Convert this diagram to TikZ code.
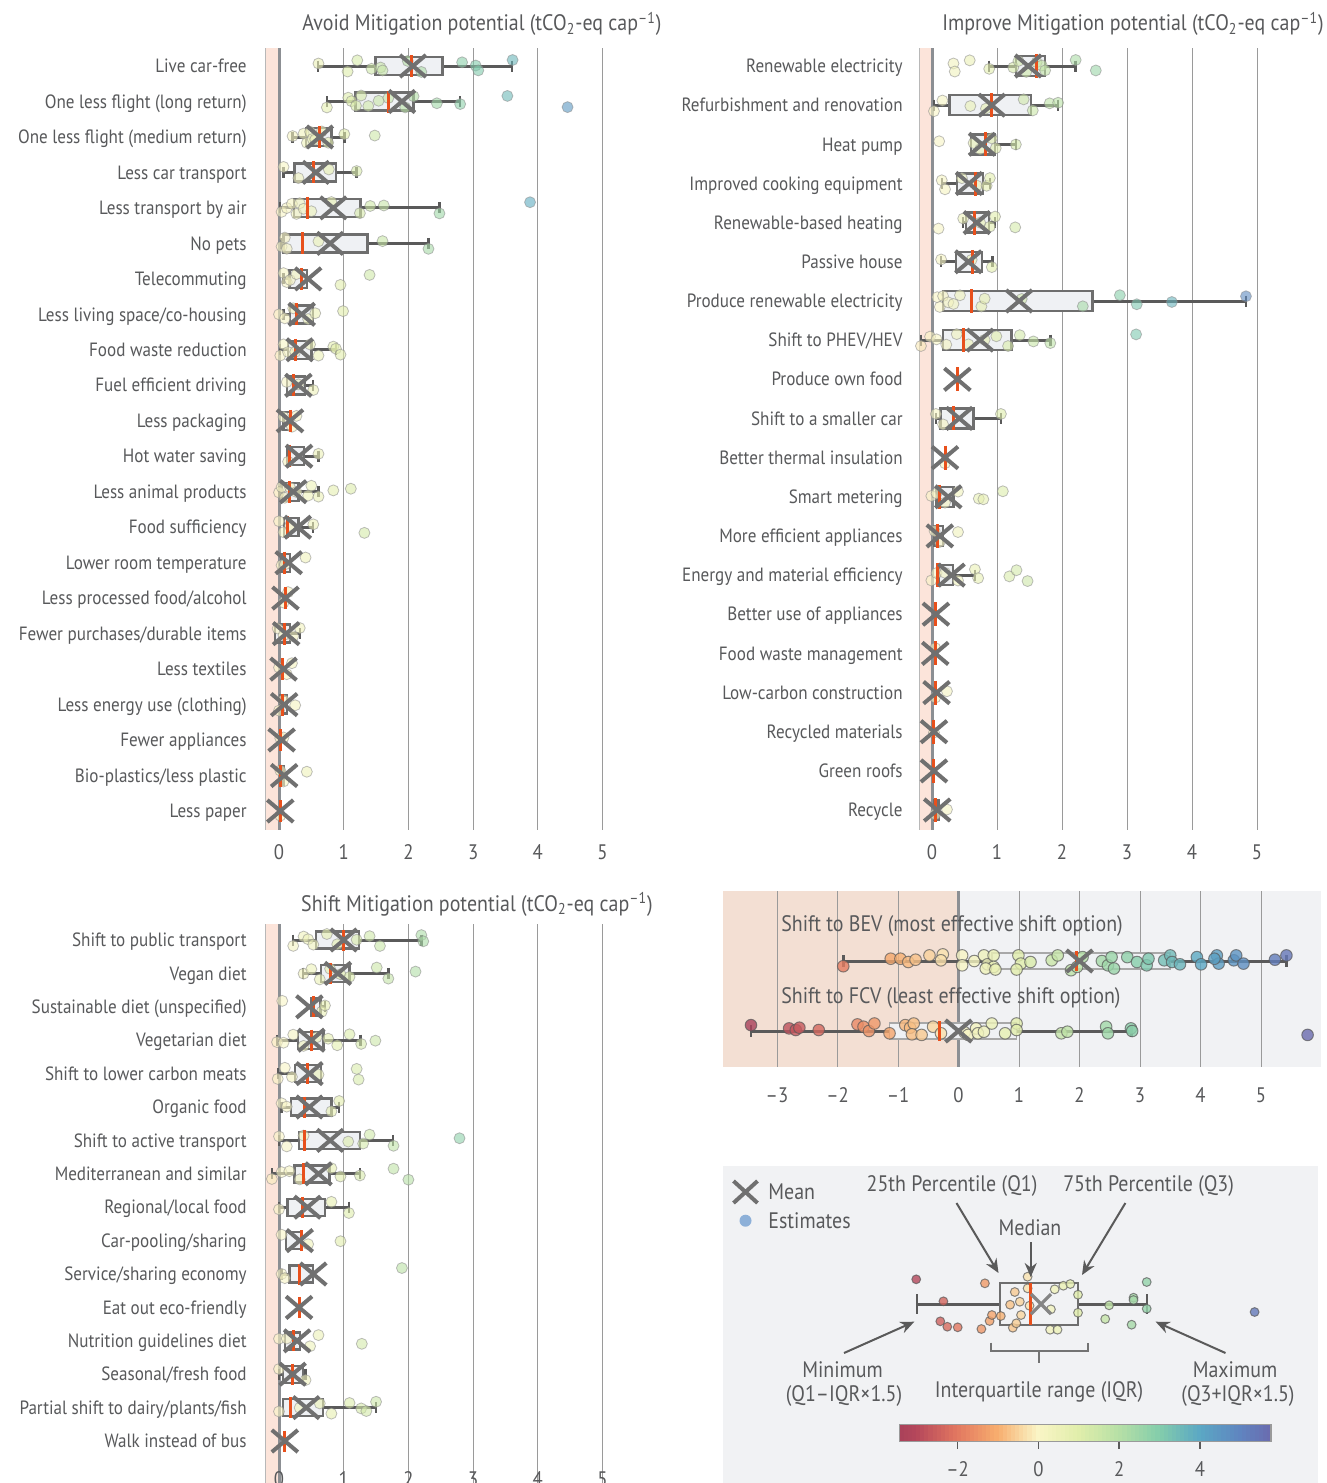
\documentclass[tikz,border=0pt]{standalone}
\usepackage{fontspec}
\setmainfont{PT Sans}[FakeStretch=0.89]
\usetikzlibrary{arrows.meta}
\definecolor{txt}{HTML}{58595B}
\definecolor{boxfill}{HTML}{EFF1F4}
\definecolor{boxline}{HTML}{6E6E6E}
\definecolor{wcol}{HTML}{5A5A5A}
\definecolor{medc}{HTML}{E8501C}
\definecolor{meanc}{HTML}{707070}
\definecolor{pinkband}{HTML}{FCE4DA}
\definecolor{zeroline}{HTML}{8C8F93}
\definecolor{gridc}{HTML}{9A9A9A}
\definecolor{panelbg}{HTML}{F1F2F4}
\definecolor{panelpink}{HTML}{F3DFD3}
\definecolor{dotedge}{HTML}{8A8A8A}
\definecolor{estblue}{HTML}{8DB0D8}
% colormap, index = value + 4
\definecolor{cm0}{HTML}{9A3A58}
\definecolor{cm1}{HTML}{B5475B}
\definecolor{cm2}{HTML}{E27760}
\definecolor{cm3}{HTML}{F7AD6E}
\definecolor{cm4}{HTML}{FAF5C6}
\definecolor{cm5}{HTML}{E1EEAB}
\definecolor{cm6}{HTML}{B7E0A6}
\definecolor{cm7}{HTML}{84CDAB}
\definecolor{cm8}{HTML}{5BA8C4}
\definecolor{cm9}{HTML}{5F85C0}
\definecolor{cm10}{HTML}{6E63AA}
\newcommand\setdc[1]{%
  \pgfmathsetmacro\vcl{max(-3.99,min(5.99,#1))}%
  \pgfmathtruncatemacro\sgi{floor(\vcl)+4}%
  \pgfmathtruncatemacro\sgj{\sgi+1}%
  \pgfmathsetmacro\frc{100*(\vcl+4-\sgi)}%
  \colorlet{dotc}{cm\sgj!\frc!cm\sgi}%
}
\tikzset{
  lbl/.style={anchor=base east, inner sep=0pt, text=txt, font=\fontsize{9.6}{11}\selectfont},
  ttl/.style={anchor=base, inner sep=0pt, text=txt, font=\fontsize{11.2}{13}\selectfont},
  tick/.style={anchor=base, inner sep=0pt, text=txt, font=\fontsize{10.5}{12}\selectfont},
  big/.style={inner sep=0pt, text=txt, font=\fontsize{11.2}{13}\selectfont},
  whisk/.style={draw=wcol, line width=1.5pt},
  wcap/.style={draw=wcol, line width=1.2pt},
  boxst/.style={draw=boxline, fill=boxfill, line width=1.2pt},
  medst/.style={draw=medc, line width=1.5pt},
  meanst/.style={draw=meanc, line width=2pt},
  gridl/.style={draw=gridc, line width=0.5pt},
  zerol/.style={draw=zeroline, line width=1.5pt},
  dotst/.style={fill=dotc, fill opacity=0.6, draw=dotedge, draw opacity=0.55, line width=0.4pt},
  bdotst/.style={fill=dotc, fill opacity=0.8, draw=black!65, draw opacity=0.7, line width=0.5pt},
  arr/.style={draw=wcol, line width=1pt, -{Stealth[length=7pt,width=6pt]}},
}
\def\zx{279}\def\un{64.7}\def\bh{9}\def\dr{5.5}
\newcommand\dts[2]{%
  \foreach \v [count=\i] in {#2} {%
    \setdc{\v}%
    \pgfmathsetmacro\dy{6*sin(\i*137.5+#1*3)}%
    \filldraw[dotst] ({\zx+\un*(\v)},{#1+\dy}) circle (\dr);
  }}
\newcommand\brow[8]{%
  \draw[whisk] ({\zx+\un*(#2)},#1) -- ({\zx+\un*(#5)},#1);
  \draw[wcap] ({\zx+\un*(#2)},{#1-5.5}) -- ({\zx+\un*(#2)},{#1+5.5});
  \draw[wcap] ({\zx+\un*(#5)},{#1-5.5}) -- ({\zx+\un*(#5)},{#1+5.5});
  \draw[boxst] ({\zx+\un*(#3)},{#1-\bh}) rectangle ({\zx+\un*(#4)},{#1+\bh});
  \def\tmpd{#8}\ifx\tmpd\empty\else\dts{#1}{#8}\fi
  \draw[medst] ({\zx+\un*(#6)},{#1-\bh-2}) -- ({\zx+\un*(#6)},{#1+\bh+2});
  \draw[meanst] ({\zx+\un*(#7)-13},{#1-11}) -- ({\zx+\un*(#7)+13},{#1+11})
                ({\zx+\un*(#7)-13},{#1+11}) -- ({\zx+\un*(#7)+13},{#1-11});
}
\newcommand\bdts[2]{%
  \foreach \v/\d in {#2} {%
    \setdc{\v}%
    \filldraw[bdotst] ({\zx+\un*(\v)},{#1+\d}) circle (5.8);
  }}
\newcommand\ldot[2]{%
  \setdc{(#1-1038.4)/40.4}%
  \filldraw[bdotst] (#1,#2) circle (4.4);
}
\begin{document}
\begin{tikzpicture}[x=0.5pt,y=-0.5pt]
\useasboundingbox (0,0) rectangle (1327,1483);
\fill[white] (0,0) rectangle (1327,1483);

%================ Panel 1: Avoid =================
\def\zx{279}\def\un{64.7}\def\bh{9}
\fill[pinkband] (265,48) rectangle (278,830);
\draw[gridc!70, line width=0.5pt] (265,48) -- (265,830);
\foreach \k in {1,...,5} \draw[gridl] ({\zx+\un*\k},48) -- ({\zx+\un*\k},830);
\draw[zerol] (\zx,48) -- (\zx,830);
\foreach \k in {0,...,5} \node[tick] (ta\k) at ({\zx+\un*\k},859) {\k};
\node[ttl] (tta) at (482,31) {Avoid Mitigation potential (tCO\textsubscript{2}-eq cap\textsuperscript{–1})};
\foreach \t [count=\i] in {Live car-free,One less flight (long return),One less flight (medium return),Less car transport,Less transport by air,No pets,Telecommuting,Less living space/co-housing,Food waste reduction,Fuel efficient driving,Less packaging,Hot water saving,Less animal products,Food sufficiency,Lower room temperature,Less processed food/alcohol,Fewer purchases/durable items,Less textiles,Less energy use (clothing),Fewer appliances,Bio-plastics/less plastic,Less paper}{%
  \pgfmathsetmacro\yy{66+35.476*(\i-1)}
  \node[lbl] (la\i) at (247,\yy+6.7) {\t};}
\brow{66}{0.6}{1.49}{2.53}{3.6}{2.05}{2.07}{0.61,1.06,1.21,1.43,1.57,1.99,2.2,2.83,3.04,3.08,3.61,1.6}
\brow{101.5}{0.74}{1.18}{2.08}{2.8}{1.69}{1.9}{0.74,1.07,1.12,1.19,1.27,1.38,1.54,1.69,1.95,2.08,2.44,2.8,3.53,4.46}
\brow{137}{0.21}{0.42}{0.81}{1.01}{0.62}{0.63}{0.21,0.38,0.43,0.48,0.52,0.56,0.66,0.76,1.01,1.48}
\brow{172.4}{0.07}{0.24}{0.88}{1.2}{0.54}{0.57}{0.07,0.3,0.77,1.2}
\brow{207.9}{0.02}{0.23}{1.26}{2.48}{0.44}{0.84}{0.04,0.12,0.2,0.27,0.32,0.38,0.5,0.81,1.25,1.41,1.62,2.48,3.88}
\brow{243.4}{0.04}{0.07}{1.37}{2.31}{0.36}{0.79}{0.04,0.09,0.12,0.61,1.6,2.31}
\brow{278.9}{0.07}{0.16}{0.43}{0.43}{0.34}{0.45}{0.07,0.12,0.17,0.27,0.95,1.4}
\brow{314.3}{0.07}{0.17}{0.53}{0.53}{0.27}{0.35}{0.0,0.09,0.22,0.45,0.56,0.99}
\brow{349.8}{0.02}{0.14}{0.5}{0.88}{0.26}{0.32}{0.02,0.07,0.14,0.25,0.48,0.61,0.84,0.88,0.95}
\brow{385.3}{0.12}{0.12}{0.4}{0.53}{0.22}{0.3}{0.12,0.3,0.53}
\brow{420.8}{0.07}{0.07}{0.17}{0.17}{0.17}{0.17}{0.07,0.2,0.27}
\brow{456.2}{0.13}{0.13}{0.39}{0.61}{0.16}{0.31}{0.14,0.61}
\brow{491.7}{0.0}{0.04}{0.3}{0.61}{0.16}{0.22}{0.0,0.04,0.09,0.17,0.27,0.45,0.5,0.61,0.84,1.11}
\brow{527.2}{0.08}{0.08}{0.3}{0.53}{0.13}{0.29}{0.0,0.07,0.17,0.53,1.32}
\brow{562.7}{0.04}{0.04}{0.17}{0.17}{0.09}{0.15}{0.04,0.09,0.41}
\brow{598.1}{0.1}{0.1}{0.1}{0.1}{0.1}{0.1}{0.07,0.14}
\brow{633.6}{-0.06}{-0.06}{0.17}{0.32}{0.08}{0.11}{-0.02,0.07,0.22,0.32}
\brow{669.1}{0.05}{0.05}{0.05}{0.05}{0.05}{0.07}{0.0,0.12,0.2}
\brow{704.6}{0.02}{0.02}{0.12}{0.12}{0.06}{0.08}{0.0,0.07,0.25}
\brow{740}{0.03}{0.03}{0.03}{0.03}{0.03}{0.04}{0.02,0.07}
\brow{775.5}{0.03}{0.03}{0.07}{0.07}{0.03}{0.08}{0.02,0.07,0.43}
\brow{811}{0.02}{0.02}{0.02}{0.02}{0.02}{0.02}{0.02}

%================ Panel 2: Improve =================
\def\zx{932}\def\un{65}\def\bh{10}
\fill[pinkband] (919,48) rectangle (931,830);
\draw[gridc!70, line width=0.5pt] (919,48) -- (919,830);
\foreach \k in {1,...,5} \draw[gridl] ({\zx+\un*\k},48) -- ({\zx+\un*\k},830);
\draw[zerol] (\zx,48) -- (\zx,830);
\foreach \k in {0,...,5} \node[tick] (tb\k) at ({\zx+\un*\k},859) {\k};
\node[ttl] (ttb) at (1133,31) {Improve Mitigation potential (tCO\textsubscript{2}-eq cap\textsuperscript{–1})};
\foreach \t [count=\i] in {Renewable electricity,Refurbishment and renovation,Heat pump,Improved cooking equipment,Renewable-based heating,Passive house,Produce renewable electricity,Shift to PHEV/HEV,Produce own food,Shift to a smaller car,Better thermal insulation,Smart metering,More efficient appliances,Energy and material efficiency,Better use of appliances,Food waste management,Low-carbon construction,Recycled materials,Green roofs,Recycle}{%
  \pgfmathsetmacro\yy{66+39.16*(\i-1)}
  \node[lbl] (lb\i) at (903,\yy+6.7) {\t};}
\brow{66}{0.88}{1.29}{1.74}{2.21}{1.61}{1.48}{0.33,0.35,0.58,0.88,1.25,1.33,1.45,1.61,1.69,1.74,2.21,2.52}
\brow{105.2}{0.03}{0.27}{1.52}{1.94}{0.91}{0.92}{0.03,0.16,0.59,0.83,1.41,1.55,1.81,1.94}
\brow{144.3}{0.6}{0.6}{0.97}{1.29}{0.82}{0.77}{0.11,0.64,0.74,0.92,0.98,1.29}
\brow{183.5}{0.15}{0.38}{0.78}{0.89}{0.67}{0.57}{0.15,0.2,0.46,0.69,0.84,0.89}
\brow{222.6}{0.48}{0.52}{0.88}{0.97}{0.65}{0.69}{0.1,0.48,0.74,0.89,0.97,1.28}
\brow{261.8}{0.14}{0.37}{0.77}{0.93}{0.62}{0.56}{0.14,0.61,0.92}
\brow{301}{0.17}{0.17}{2.47}{4.83}{0.6}{1.34}{0.08,0.12,0.17,0.25,0.33,0.43,0.76,0.81,1.38,2.32,2.89,3.15,3.69,4.83}
\brow{340.1}{-0.17}{0.17}{1.22}{1.82}{0.48}{0.74}{-0.17,-0.03,0.07,0.22,0.38,0.56,0.81,0.99,1.17,1.35,1.56,1.82,3.14}
\brow{379.3}{0.39}{0.39}{0.39}{0.39}{0.39}{0.39}{}
\brow{418.4}{0.06}{0.13}{0.64}{1.06}{0.33}{0.42}{0.06,0.17,1.06}
\brow{457.6}{0.2}{0.2}{0.2}{0.2}{0.2}{0.2}{0.2}
\brow{496.8}{0.07}{0.07}{0.33}{0.33}{0.12}{0.25}{-0.01,0.07,0.2,0.4,0.72,0.79,1.09}
\brow{535.9}{0.04}{0.04}{0.17}{0.17}{0.08}{0.12}{0.04,0.12,0.4}
\brow{575.1}{0.1}{0.1}{0.32}{0.66}{0.08}{0.3}{-0.01,0.07,0.2,0.4,0.66,0.71,1.19,1.3,1.47}
\brow{614.2}{0.06}{0.06}{0.06}{0.06}{0.06}{0.06}{}
\brow{653.4}{0.05}{0.05}{0.05}{0.05}{0.05}{0.05}{0.05}
\brow{692.6}{0.05}{0.05}{0.05}{0.05}{0.05}{0.07}{0.05,0.23}
\brow{731.7}{0.03}{0.03}{0.03}{0.03}{0.03}{0.03}{0.03}
\brow{770.9}{0.03}{0.03}{0.03}{0.03}{0.03}{0.03}{}
\brow{810}{0.03}{0.03}{0.1}{0.1}{0.05}{0.08}{0.05,0.23}

%================ Panel 3: Shift =================
\def\zx{279}\def\un{64.7}\def\bh{8.5}
\fill[pinkband] (265,924) rectangle (278,1483);
\draw[gridc!70, line width=0.5pt] (265,924) -- (265,1483);
\foreach \k in {1,...,5} \draw[gridl] ({\zx+\un*\k},924) -- ({\zx+\un*\k},1483);
\draw[zerol] (\zx,924) -- (\zx,1483);
\foreach \k in {0,...,5} \node[tick] (tc\k) at ({\zx+\un*\k},1486) {\k};
\node[ttl] (ttc) at (477,911) {Shift Mitigation potential (tCO\textsubscript{2}-eq cap\textsuperscript{–1})};
\foreach \t [count=\i] in {Shift to public transport,Vegan diet,Sustainable diet (unspecified),Vegetarian diet,Shift to lower carbon meats,Organic food,Shift to active transport,Mediterranean and similar,Regional/local food,Car-pooling/sharing,Service/sharing economy,Eat out eco-friendly,Nutrition guidelines diet,Seasonal/fresh food,Partial shift to dairy/plants/fish,Walk instead of bus}{%
  \pgfmathsetmacro\yy{940+33.4*(\i-1)}
  \node[lbl] (lc\i) at (247,\yy+6.7) {\t};}
\brow{940}{0.22}{0.57}{1.24}{2.2}{0.99}{1.0}{0.22,0.38,0.45,0.53,0.74,0.9,1.2,1.4,1.56,2.2,2.23}
\brow{973.4}{0.37}{0.65}{1.09}{1.69}{0.8}{0.91}{0.38,0.5,0.63,0.79,0.95,1.09,1.51,1.69,2.11}
\brow{1006.8}{0.5}{0.5}{0.64}{0.71}{0.54}{0.47}{0.05,0.66,0.71}
\brow{1040.2}{-0.03}{0.29}{0.69}{1.26}{0.5}{0.5}{-0.03,0.07,0.22,0.38,0.58,0.76,0.9,1.09,1.27,1.49}
\brow{1073.6}{-0.02}{0.25}{0.65}{0.65}{0.44}{0.47}{-0.02,0.09,0.2,0.61,1.2,1.23}
\brow{1107}{0.04}{0.19}{0.81}{0.93}{0.4}{0.47}{0.04,0.12,0.81,0.93}
\brow{1140.4}{0.0}{0.31}{1.25}{1.76}{0.4}{0.79}{0.0,0.12,0.38,1.07,1.3,1.4,1.77,2.79}
\brow{1173.8}{-0.11}{0.24}{0.78}{1.25}{0.38}{0.61}{-0.11,0.04,0.16,0.32,0.81,0.95,1.25,1.77,2.0}
\brow{1207.2}{0.0}{0.13}{0.71}{1.08}{0.36}{0.44}{0.0,0.81,1.08}
\brow{1240.6}{0.11}{0.11}{0.35}{0.35}{0.34}{0.32}{0.04,0.45,0.95}
\brow{1274}{0.04}{0.16}{0.53}{0.53}{0.32}{0.53}{0.04,0.09,1.9}
\brow{1307.4}{0.31}{0.31}{0.31}{0.31}{0.31}{0.31}{}
\brow{1340.8}{0.09}{0.09}{0.32}{0.32}{0.23}{0.28}{0.0,0.12,0.48,0.61,1.28}
\brow{1374.2}{0.0}{0.06}{0.37}{0.41}{0.21}{0.21}{0.0,0.41}
\brow{1407.6}{0.06}{0.06}{0.68}{1.5}{0.18}{0.42}{0.0,0.32,0.63,0.81,1.09,1.27,1.35,1.5}
\brow{1441}{0.09}{0.09}{0.09}{0.09}{0.09}{0.09}{}

%================ Panel 4: BEV / FCV =================
\def\zx{958.5}\def\un{60.5}\def\bh{8}
\fill[panelpink] (723,891) rectangle (958.5,1067);
\fill[panelbg] (958.5,891) rectangle (1321,1067);
\foreach \k in {-3,-2,-1,1,2,3,4,5} \draw[gridl] ({\zx+\un*\k},891) -- ({\zx+\un*\k},1067);
\draw[zerol] (\zx,891) -- (\zx,1067);
\foreach \k/\s in {-3/–3,-2/–2,-1/–1,0/0,1/1,2/2,3/3,4/4,5/5} \node[tick] (td\k) at ({\zx+\un*\k},1102) {\s};
% BEV row
\draw[whisk] ({\zx+\un*(-1.9)},961) -- ({\zx+\un*5.42},961);
\draw[wcap] ({\zx+\un*(-1.9)},955) -- ({\zx+\un*(-1.9)},967);
\draw[wcap] ({\zx+\un*5.42},955) -- ({\zx+\un*5.42},967);
\draw[boxline!60, fill=boxfill, line width=0.8pt] ({\zx+\un*0.55},953) rectangle ({\zx+\un*3.5},969);
\bdts{961}{-1.905/5.2,-1.12/-2.3,-0.96/-2.3,-0.83/1,-0.71/-1.3,-0.48/-5.6,-0.26/-6.6,-0.29/-0.7,0.06/-5.6,0.06/4.3,0.26/0,0.42/-5.6,0.48/3.3,0.58/-5.6,0.58/5.9,0.45/7.5,0.61/8.5,0.99/-5.6,1.03/2.6,0.96/8.5,1.19/1,1.54/-0.7,1.64/-5.6,1.86/9.2,2.05/-3.9,1.96/5.9,2.37/0,2.47/4.3,2.53/-3.9,2.57/7.5,2.79/-3.9,2.95/1,3.11/4.3,3.14/-2.3,3.40/-0.7,3.50/-5.6,3.53/1,3.66/3.3,3.94/-3.9,4.01/3.3,4.27/-5.6,4.30/2.6,4.23/-2.3,4.55/-0.7,4.59/-5.6,4.71/2.6,5.23/-1.3,5.42/-5.6}
\draw[medst] ({\zx+\un*1.95},951) -- ({\zx+\un*1.95},971);
\draw[meanst] ({\zx+\un*2-13},950) -- ({\zx+\un*2+13},972) ({\zx+\un*2-13},972) -- ({\zx+\un*2+13},950);
% FCV row
\draw[whisk] ({\zx+\un*(-3.43)},1031) -- ({\zx+\un*2.86},1031);
\draw[wcap] ({\zx+\un*(-3.43)},1025) -- ({\zx+\un*(-3.43)},1037);
\draw[wcap] ({\zx+\un*2.86},1025) -- ({\zx+\un*2.86},1037);
\draw[boxline!60, fill=boxfill, line width=0.8pt] ({\zx+\un*(-1.14)},1023) rectangle ({\zx+\un*0.96},1039);
\bdts{1031}{-3.43/-5.9,-2.80/-2.6,-2.69/-1,-2.63/-3.3,-2.31/-1,-1.67/-6.6,-1.57/-4.3,-1.48/0,-1.39/-7.5,-1.14/2.3,-0.88/-5.9,-0.80/-3.3,-0.74/-7.5,-0.77/3.3,-0.61/3.9,-0.42/-4.3,-0.29/2.3,0.10/1.3,0.16/3.9,0.29/-2.6,0.32/2.3,0.42/0.7,0.55/-7.5,0.77/2.3,0.96/-7.5,0.96/-1,1.70/2.3,1.80/0.7,2.44/-4.3,2.47/2.3,2.85/-2.6,2.87/0,5.77/3.9}
\draw[medst] ({\zx+\un*(-0.32)},1021) -- ({\zx+\un*(-0.32)},1041);
\draw[meanst] ({\zx-13},1020) -- ({\zx+13},1042) ({\zx-13},1042) -- ({\zx+13},1020);
\node[big, anchor=west] (bevlbl) at (781,926) {Shift to BEV (most effective shift option)};
\node[big, anchor=west] (fcvlbl) at (781,998) {Shift to FCV (least effective shift option)};

%================ Panel 5: legend =================
\fill[panelbg] (723,1166) rectangle (1318,1483);
\draw[meanst] (733.5,1181) -- (757.5,1203) (733.5,1203) -- (757.5,1181);
\node[big, anchor=west] (meanlbl) at (768,1192) {Mean};
\fill[estblue] (745.5,1220.7) circle (6);
\node[big, anchor=west] (estlbl) at (768,1220.7) {Estimates};
\node[big] (q1lbl) at (952,1186) {25th Percentile (Q1)};
\node[big] (q3lbl) at (1148.6,1186) {75th Percentile (Q3)};
\node[big] (medlbl) at (1030,1228) {Median};
\node[big] (minlbl) at (842.5,1370) {Minimum};
\node[big] (minlbl2) at (844,1396) {(Q1–IQR×1.5)};
\node[big] (iqrlbl) at (1039,1392) {Interquartile range (IQR)};
\node[big] (maxlbl) at (1235,1370) {Maximum};
\node[big] (maxlbl2) at (1238,1396) {(Q3+IQR×1.5)};
% legend box plot
\draw[whisk] (917,1304) -- (1147,1304);
\draw[wcap] (917,1294) -- (917,1314);
\draw[wcap] (1147,1294) -- (1147,1314);
\draw[draw=boxline, fill=panelbg, line width=1pt] (1000.4,1283.3) rectangle (1078,1325);
\ldot{916.2}{1279.3}\ldot{943.4}{1301.3}\ldot{940.3}{1321.3}\ldot{947.3}{1326.7}\ldot{957.7}{1327.3}
\ldot{984.9}{1283.3}\ldot{981.4}{1329}\ldot{989.6}{1321}\ldot{991.9}{1315}\ldot{1000.8}{1316}
\ldot{1012.8}{1327.7}\ldot{1016.3}{1323.3}\ldot{1010.1}{1304.7}\ldot{1019.8}{1301.7}\ldot{1014.8}{1292}
\ldot{1021}{1315}\ldot{1027.6}{1288.3}\ldot{1027.6}{1276.7}\ldot{1029.5}{1305.7}\ldot{1054.7}{1289.3}
\ldot{1063.3}{1285.7}\ldot{1070.3}{1284}\ldot{1078}{1294.7}\ldot{1078}{1312.7}\ldot{1050.9}{1309.3}
\ldot{1050.1}{1329.7}\ldot{1057.5}{1329.7}\ldot{1105.2}{1319}\ldot{1109.1}{1305.3}\ldot{1131.6}{1324.7}
\ldot{1133.5}{1297.7}\ldot{1133.5}{1300}\ldot{1146.7}{1282}\ldot{1146.7}{1308.7}\ldot{1254.6}{1312}
\draw[medst] (1030.3,1283.3) -- (1030.3,1325);
\draw[meanc!85, line width=1.6pt] (1031,1294) -- (1051,1314) (1031,1314) -- (1051,1294);
% bracket
\draw[wcol!85, line width=1pt] (990.7,1342.7) -- (990.7,1350.7) -- (1087.7,1350.7) -- (1087.7,1342.7);
\draw[wcol!85, line width=1pt] (1039,1350.7) -- (1039,1363);
% arrows
\coordinate (q1s) at (956.5,1203);
\coordinate (q1t) at (998.5,1273);
\coordinate (q3s) at (1125.4,1203);
\coordinate (q3t) at (1082,1275);
\coordinate (meds) at (1030.7,1242);
\coordinate (medt) at (1030.7,1277);
\coordinate (mins) at (844,1353);
\coordinate (mint) at (914.3,1321.7);
\coordinate (maxs) at (1225.5,1353);
\coordinate (maxt) at (1155.6,1321.7);
\draw[arr] (q1s) -- (q1t);
\draw[arr] (q3s) -- (q3t);
\draw[arr] (meds) -- (medt);
\draw[arr] (mins) -- (mint);
\draw[arr] (maxs) -- (maxt);
% colorbar
\foreach \k in {0,...,89}{%
  \pgfmathsetmacro\vv{-3.42+(\k+0.5)*9.19/90}%
  \setdc{\vv}%
  \fill[dotc] ({899.5+\k*4.128},1424.3) rectangle ({899.5+(\k+1)*4.128+0.4},1441.7);}
\draw[gridc, line width=0.6pt] (899.5,1424.3) rectangle (1271,1441.7);
\foreach \v/\s in {-2/–2,0/0,2/2,4/4}{%
  \draw[wcol, line width=0.8pt] ({1038.4+40.4*\v},1441.7) -- ({1038.4+40.4*\v},1449);
  \node[tick] (tl\v) at ({1038.4+40.4*\v},1476) {\s};}
\end{tikzpicture}
\end{document}
